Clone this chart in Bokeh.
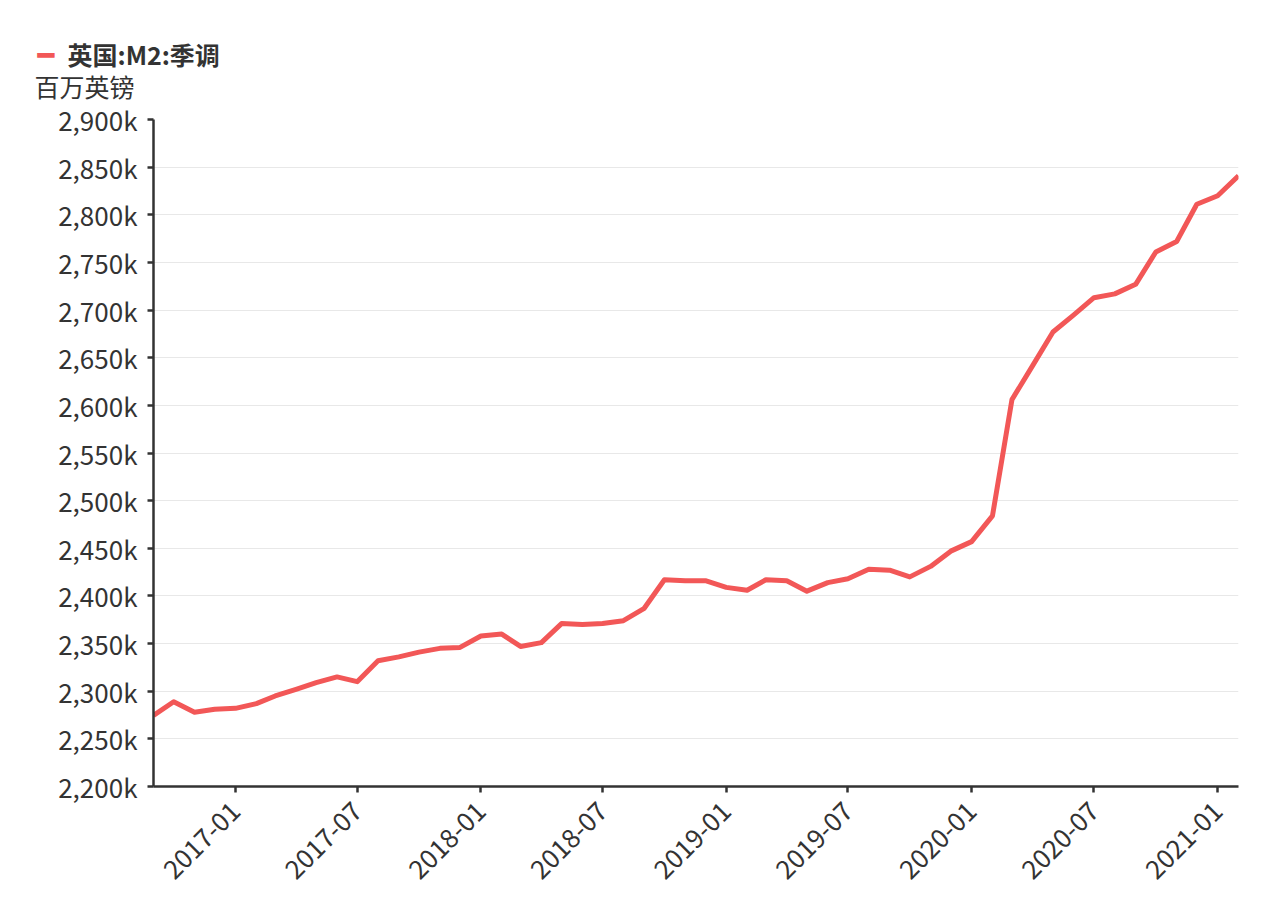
import pandas as pd
from bokeh.plotting import figure
from bokeh.models import (ColumnDataSource, Range1d, SingleIntervalTicker, MonthsTicker,
                          DatetimeTickFormatter, CustomJSTickFormatter, Label)
from bokeh.embed import file_html
from bokeh.resources import INLINE
from math import pi

series_name = "英国:M2:季调"
unit_label = "百万英镑"
months = pd.date_range("2016-09-01", "2021-02-01", freq="MS")
m2_values = [
    2274500, 2289000, 2278000, 2281000, 2282000, 2287000, 2295000, 2302000, 2309000, 2315000,
    2310000, 2332000, 2336000, 2341000, 2345000, 2346000, 2358000, 2360000, 2347000, 2351000,
    2371000, 2370000, 2371000, 2374000, 2387000, 2417000, 2416000, 2416000, 2409000, 2406000,
    2417000, 2416000, 2405000, 2414000, 2418000, 2428000, 2427000, 2420000, 2431000, 2447000,
    2457000, 2484000, 2606000, 2642000, 2677000, 2695000, 2713000, 2717000, 2727000, 2761000,
    2772000, 2811000, 2820000, 2841000,
]

FONT = "Noto Sans CJK SC"
TXT = "#333333"
RED = "#f25757"

src = ColumnDataSource(dict(x=list(months), y=m2_values))

p = figure(width=1269, height=914, x_axis_type="datetime", output_backend="svg",
           toolbar_location=None, min_border_left=153, min_border_right=31,
           min_border_top=119, min_border_bottom=128)
p.x_range = Range1d(months[0], months[-1])
p.y_range = Range1d(2200000, 2900000)
p.outline_line_color = None

r = p.line("x", "y", source=src, line_color=RED, line_width=5, line_join="round")

p.yaxis.ticker = SingleIntervalTicker(interval=50000)
p.yaxis.formatter = CustomJSTickFormatter(code="return (tick/1000).toLocaleString('en-US') + 'k';")
p.xaxis.ticker = MonthsTicker(months=[0, 6])
p.xaxis.formatter = DatetimeTickFormatter(months="%Y-%m", years="%Y-%m", days="%Y-%m")
p.xaxis.major_label_orientation = pi / 4
for ax in (p.xaxis, p.yaxis):
    ax.axis_line_color = TXT
    ax.axis_line_width = 2.5
    ax.major_tick_line_color = TXT
    ax.major_tick_line_width = 2.5
    ax.major_tick_out = 6
    ax.major_tick_in = 0
    ax.minor_tick_line_color = None
    ax.major_label_text_font = FONT
    ax.major_label_text_font_size = "26px"
    ax.major_label_text_color = TXT
p.xaxis.major_label_standoff = 14
p.yaxis.major_label_standoff = 10
p.xgrid.grid_line_color = None
p.ygrid.grid_line_color = "#e8e8e8"
p.ygrid.grid_line_width = 1

# legend (marker + bold name) and unit label, placed in the top margin
p.add_layout(Label(x=-116, y=64, x_units="screen", y_units="screen", text="━",
                   text_font="DejaVu Sans", text_font_size="28px", text_color=RED,
                   text_baseline="middle", text_align="left"), "above")
p.add_layout(Label(x=-86, y=33, x_units="screen", y_units="screen", text=series_name,
                   text_font=FONT, text_font_size="25px", text_font_style="bold",
                   text_color=TXT, text_baseline="middle", text_align="left"), "above")
p.add_layout(Label(x=-119, y=-35, x_units="screen", y_units="screen", text=unit_label,
                   text_font=FONT, text_font_size="25px", text_color=TXT,
                   text_baseline="middle", text_align="left"), "above")

open("out.html", "w").write(file_html(p, INLINE))
